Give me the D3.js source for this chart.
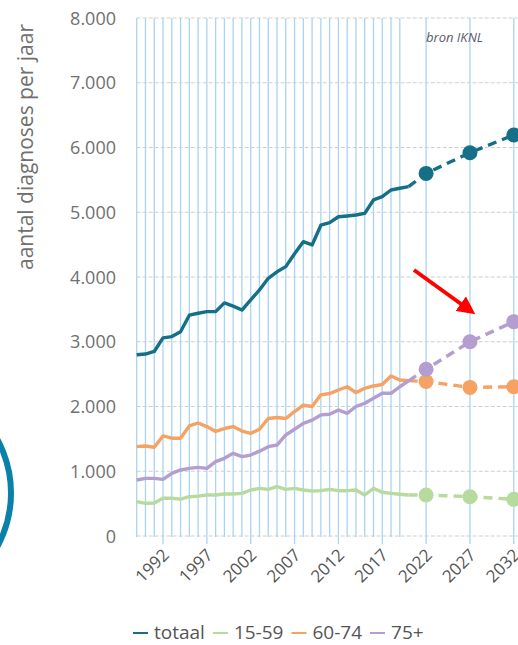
<!DOCTYPE html>
<html>
<head>
<meta charset="utf-8">
<style>
  body { margin: 0; background: #fff; }
  text { font-family: "Open Sans", sans-serif; }
</style>
</head>
<body>
<svg id="container" width="518" height="645"></svg>
<script src="https://cdn.jsdelivr.net/npm/d3@7"></script>
<script>
// historical years 1989-2020, projections 2022, 2027, 2032
let years = d3.range(1989, 2021)
let projYears = [2022, 2027, 2032]

let totaal = [2800, 2810, 2850, 3060, 3080, 3155, 3410, 3440, 3465, 3465, 3600, 3550, 3490, 3645,
  3800, 3980, 4080, 4160, 4360, 4545, 4495, 4800, 4840, 4930, 4942, 4957, 4983, 5190, 5240, 5344, 5370, 5395]
let g1559 = [530, 505, 510, 582, 582, 570, 607, 616, 633, 633, 649, 649, 659, 710,
  736, 720, 762, 720, 736, 710, 695, 700, 720, 700, 700, 710, 633, 736, 675, 659, 644, 633]
let g6074 = [1380, 1390, 1370, 1545, 1510, 1510, 1700, 1745, 1690, 1615, 1660, 1690, 1620, 1585,
  1650, 1815, 1830, 1815, 1920, 2020, 2000, 2180, 2200, 2255, 2305, 2215, 2280, 2317, 2340, 2470, 2410, 2400]
let g75 = [865, 890, 890, 875, 968, 1020, 1045, 1060, 1045, 1148, 1200, 1277, 1225, 1250,
  1310, 1380, 1405, 1560, 1648, 1740, 1790, 1870, 1880, 1946, 1895, 2000, 2050, 2127, 2204, 2204, 2305, 2395]

let projTotaal = [5600, 5920, 6193]
let proj1559 = [633, 607, 566]
let proj6074 = [2385, 2295, 2305]
let proj75 = [2575, 3000, 3310]

let yTicks = [0, 1000, 2000, 3000, 4000, 5000, 6000, 7000, 8000]
let xLabels = [1992, 1997, 2002, 2007, 2012, 2017, 2022, 2027, 2032]

let series = [
  {name: "totaal", color: "#146f87", hist: totaal, proj: projTotaal},
  {name: "15-59", color: "#b7da9d", hist: g1559, proj: proj1559},
  {name: "60-74", color: "#f5a262", hist: g6074, proj: proj6074},
  {name: "75+", color: "#b49dcf", hist: g75, proj: proj75}
]

let svg = d3.select("#container")

let x = d3.scaleLinear().domain([1989, 2032]).range([136.7, 513.8])
let y = d3.scaleLinear().domain([0, 8000]).range([536, 18])

let fmt = d3.formatLocale({decimal: ",", thousands: ".", grouping: [3], currency: ["€", ""]}).format(",")

// blue circle decoration at left
svg.append("circle")
  .attr("cx", -101).attr("cy", 493).attr("r", 112)
  .attr("fill", "none").attr("stroke", "#0b80a8").attr("stroke-width", 6)

// horizontal grid
svg.append("g").selectAll("line")
  .data(yTicks)
  .enter().append("line")
  .attr("x1", x(1989)).attr("x2", 518)
  .attr("y1", d => y(d)).attr("y2", d => y(d))
  .attr("stroke", "#cfcfcf").attr("stroke-width", 1)
  .attr("stroke-dasharray", "4,2")

// vertical grid
let gridYears = years.filter(d => d <= 2019).concat(projYears)
svg.append("g").selectAll("line")
  .data(gridYears)
  .enter().append("line")
  .attr("x1", d => x(d)).attr("x2", d => x(d))
  .attr("y1", y(8000))
  .attr("y2", d => (xLabels.includes(d) ? 544 : 537))
  .attr("stroke", "#a9d4f3").attr("stroke-width", 1.3)

// y tick labels
svg.append("g").selectAll("text")
  .data(yTicks)
  .enter().append("text")
  .attr("x", 116).attr("y", d => y(d) + 6.5)
  .attr("text-anchor", "end")
  .attr("font-size", 18).attr("fill", "#707070")
  .text(d => fmt(d))

// y title
svg.append("text")
  .attr("transform", "translate(33,147) rotate(-90)")
  .attr("text-anchor", "middle")
  .attr("font-size", 21).attr("fill", "#707070")
  .text("aantal diagnoses per jaar")

// x labels
svg.append("g").selectAll("text")
  .data(xLabels)
  .enter().append("text")
  .attr("transform", d => `translate(${x(d) + 7},556) rotate(-45)`)
  .attr("text-anchor", "end")
  .attr("font-size", 17).attr("fill", "#555")
  .text(d => d)

let line = d3.line().x(d => x(d[0])).y(d => y(d[1]))

for (let s of series) {
  let hist = years.map((yr, i) => [yr, s.hist[i]])
  let proj = [hist[hist.length - 1]].concat(projYears.map((yr, i) => [yr, s.proj[i]]))
  svg.append("path")
    .attr("d", line(hist))
    .attr("fill", "none").attr("stroke", s.color)
    .attr("stroke-width", 3.4).attr("stroke-linejoin", "round")
  svg.append("path")
    .attr("d", line(proj))
    .attr("fill", "none").attr("stroke", s.color)
    .attr("stroke-width", 3.4).attr("stroke-dasharray", "9,6")
  svg.append("g").selectAll("circle")
    .data(proj.slice(1))
    .enter().append("circle")
    .attr("cx", d => x(d[0])).attr("cy", d => y(d[1]))
    .attr("r", 7.5).attr("fill", s.color)
}

// source
svg.append("text")
  .attr("x", 426).attr("y", 42)
  .attr("font-size", 13).attr("font-style", "italic").attr("fill", "#5a5a6a")
  .text("bron IKNL")

// red arrow
svg.append("defs").append("marker")
  .attr("id", "head").attr("viewBox", "0 0 10 10")
  .attr("refX", 5).attr("refY", 5)
  .attr("markerWidth", 4.5).attr("markerHeight", 4.5)
  .attr("orient", "auto")
  .append("path").attr("d", "M0,0L10,5L0,10z").attr("fill", "#ff0000")
svg.append("line")
  .attr("x1", 414).attr("y1", 270).attr("x2", 468).attr("y2", 309)
  .attr("stroke", "#ff0000").attr("stroke-width", 4)
  .attr("marker-end", "url(#head)")

// legend: colored dash + label
let lx = 133
let legend = svg.append("g")
for (let s of series) {
  legend.append("line")
    .attr("x1", lx).attr("x2", lx + 15)
    .attr("y1", 633).attr("y2", 633)
    .attr("stroke", s.color).attr("stroke-width", 2)
  let t = legend.append("text")
    .attr("x", lx + 21).attr("y", 639)
    .attr("font-size", 19).attr("fill", "#555")
    .text(s.name)
  lx += 21 + t.node().getComputedTextLength() + 8
}
</script>
</body>
</html>
